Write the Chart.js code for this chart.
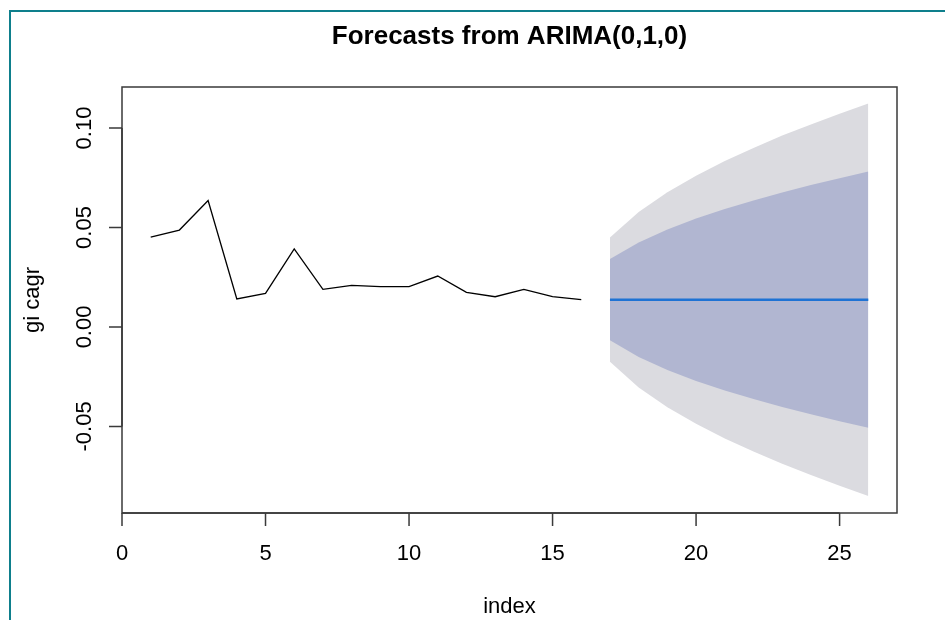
<!DOCTYPE html>
<html>
<head>
<meta charset="utf-8">
<script src="https://cdn.jsdelivr.net/npm/chart.js@4/dist/chart.umd.min.js"></script>
<style>
  html, body { margin: 0; padding: 0; background: #fff; }
  #wrap { width: 945px; height: 620px; position: relative; }
</style>
</head>
<body>
<div id="wrap"><canvas id="chart" width="945" height="620"></canvas></div>
<script>
// observed series (index 1..16)
const histX = [1, 2, 3, 4, 5, 6, 7, 8, 9, 10, 11, 12, 13, 14, 15, 16];
const histY = [0.0451, 0.0487, 0.0635, 0.0141, 0.0169, 0.0392, 0.0189, 0.0209,
               0.0203, 0.0203, 0.0256, 0.0174, 0.0152, 0.0189, 0.0152, 0.0137];

// forecast horizon (index 17..26)
const fcX = [17, 18, 19, 20, 21, 22, 23, 24, 25, 26];
const fcMean = [0.0137, 0.0137, 0.0137, 0.0137, 0.0137, 0.0137, 0.0137, 0.0137, 0.0137, 0.0137];
const hi80 = [0.0341, 0.0425, 0.0490, 0.0545, 0.0593, 0.0636, 0.0676, 0.0713, 0.0748, 0.0781];
const lo80 = [-0.0067, -0.0151, -0.0216, -0.0271, -0.0319, -0.0362, -0.0402, -0.0439, -0.0474, -0.0507];
const hi95 = [0.0449, 0.0578, 0.0677, 0.0760, 0.0834, 0.0900, 0.0962, 0.1018, 0.1072, 0.1123];
const lo95 = [-0.0175, -0.0304, -0.0403, -0.0486, -0.0560, -0.0626, -0.0688, -0.0744, -0.0798, -0.0849];

const xTicks = [0, 5, 10, 15, 20, 25];
const yTicks = [-0.05, 0.00, 0.05, 0.10];
const yTickLabels = ['-0.05', '0.00', '0.05', '0.10'];

const pts = (xs, ys) => xs.map((x, i) => ({ x: x, y: ys[i] }));

// R style frame, axes and text
const rAxes = {
  id: 'rAxes',
  afterDraw(chart) {
    const ctx = chart.ctx;
    const a = chart.chartArea;
    const xs = chart.scales.x, ys = chart.scales.y;
    ctx.save();

    // outer teal border
    ctx.strokeStyle = '#0e7f8c';
    ctx.lineWidth = 2;
    ctx.beginPath();
    ctx.moveTo(10, 620);
    ctx.lineTo(10, 11);
    ctx.lineTo(945, 11);
    ctx.stroke();

    // plot box
    ctx.strokeStyle = '#3a3a3a';
    ctx.lineWidth = 1.5;
    ctx.strokeRect(a.left, a.top, a.right - a.left, a.bottom - a.top);

    ctx.fillStyle = '#000';
    ctx.font = '22px "Liberation Sans", Arial, sans-serif';

    // x axis
    ctx.beginPath();
    ctx.moveTo(xs.getPixelForValue(xTicks[0]), a.bottom);
    ctx.lineTo(xs.getPixelForValue(xTicks[xTicks.length - 1]), a.bottom);
    xTicks.forEach(t => {
      const px = xs.getPixelForValue(t);
      ctx.moveTo(px, a.bottom);
      ctx.lineTo(px, a.bottom + 13);
    });
    ctx.stroke();
    ctx.textAlign = 'center';
    ctx.textBaseline = 'middle';
    xTicks.forEach(t => ctx.fillText(String(t), xs.getPixelForValue(t), 554));

    // y axis
    ctx.beginPath();
    ctx.moveTo(a.left, ys.getPixelForValue(yTicks[0]));
    ctx.lineTo(a.left, ys.getPixelForValue(yTicks[yTicks.length - 1]));
    yTicks.forEach(t => {
      const py = ys.getPixelForValue(t);
      ctx.moveTo(a.left, py);
      ctx.lineTo(a.left - 13, py);
    });
    ctx.stroke();
    yTicks.forEach((t, i) => {
      ctx.save();
      ctx.translate(85, ys.getPixelForValue(t));
      ctx.rotate(-Math.PI / 2);
      ctx.fillText(yTickLabels[i], 0, 0);
      ctx.restore();
    });

    // axis titles
    ctx.fillText('index', (a.left + a.right) / 2, 607);
    ctx.save();
    ctx.translate(33, (a.top + a.bottom) / 2);
    ctx.rotate(-Math.PI / 2);
    ctx.fillText('gi cagr', 0, 0);
    ctx.restore();

    // main title
    ctx.font = 'bold 26px "Liberation Sans", Arial, sans-serif';
    ctx.fillText('Forecasts from ARIMA(0,1,0)', (a.left + a.right) / 2, 37);
    ctx.restore();
  }
};

new Chart(document.getElementById('chart'), {
  type: 'line',
  data: {
    datasets: [
      { data: pts(fcX, hi95), order: 4, fill: '+1', backgroundColor: '#dbdbe0', borderWidth: 0, pointRadius: 0, tension: 0 },
      { data: pts(fcX, lo95), order: 4, fill: false, borderWidth: 0, pointRadius: 0, tension: 0 },
      { data: pts(fcX, hi80), order: 3, fill: '+1', backgroundColor: '#b1b6d1', borderWidth: 0, pointRadius: 0, tension: 0 },
      { data: pts(fcX, lo80), order: 3, fill: false, borderWidth: 0, pointRadius: 0, tension: 0 },
      { data: pts(fcX, fcMean), order: 2, fill: false, borderColor: '#1e72d4', borderWidth: 2.6, pointRadius: 0, tension: 0 },
      { data: pts(histX, histY), order: 1, fill: false, borderColor: '#000', borderWidth: 1.3, pointRadius: 0, tension: 0 }
    ]
  },
  options: {
    responsive: false,
    animation: false,
    devicePixelRatio: 1,
    layout: { padding: { left: 122, right: 48, top: 87, bottom: 107 } },
    plugins: { legend: { display: false }, tooltip: { enabled: false } },
    scales: {
      x: { type: 'linear', min: 0, max: 27, display: false },
      y: { type: 'linear', min: -0.0935, max: 0.1206, display: false }
    }
  },
  plugins: [rAxes]
});
</script>
</body>
</html>
